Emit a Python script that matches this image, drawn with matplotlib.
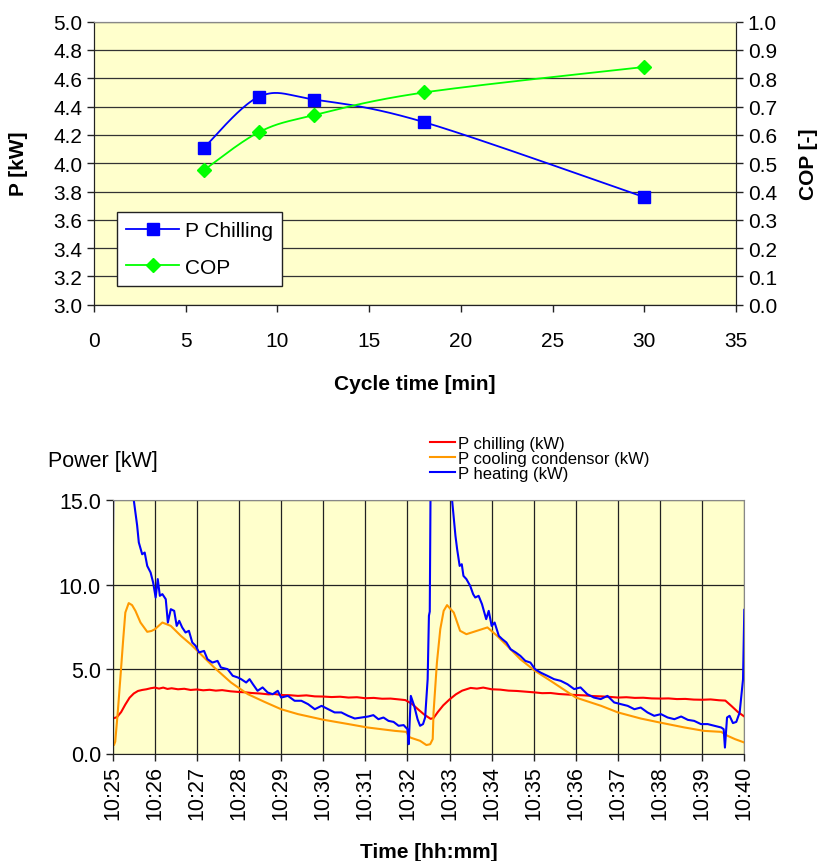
import numpy as np
import matplotlib
matplotlib.use("Agg")
import matplotlib.pyplot as plt
from matplotlib.lines import Line2D

plt.rcParams['font.family'] = ['Liberation Sans', 'DejaVu Sans']

# ---------------- data: top chart ----------------
cycle_time = [6, 9, 12, 18, 30]
p_chilling = [4.11, 4.47, 4.45, 4.29, 3.76]
cop = [0.476, 0.61, 0.67, 0.75, 0.84]

# ---------------- data: bottom chart (minutes after 10:00) ----------------
red_t = [25.00, 25.10, 25.20, 25.30, 25.40, 25.50, 25.60, 25.70, 25.80, 25.90, 26.00, 26.10, 26.20, 26.30,
         26.40, 26.55, 26.70, 26.85, 27.00, 27.15, 27.30, 27.45, 27.60, 27.80, 28.00, 28.15, 28.30, 28.50,
         28.70, 28.85, 29.00, 29.20, 29.40, 29.60, 29.80, 30.00, 30.20, 30.40, 30.60, 30.80, 31.00, 31.20,
         31.40, 31.60, 31.80, 31.95, 32.10, 32.25, 32.40, 32.55, 32.62, 32.72, 32.85, 33.00, 33.15, 33.30,
         33.50, 33.65, 33.80, 34.00, 34.20, 34.40, 34.60, 34.80, 35.00, 35.20, 35.40, 35.60, 35.80, 36.00,
         36.20, 36.40, 36.60, 36.80, 37.00, 37.20, 37.40, 37.60, 37.80, 38.00, 38.20, 38.40, 38.60, 38.80,
         39.00, 39.20, 39.40, 39.55, 39.70, 39.85, 40.00]
red_v = [2.07, 2.15, 2.45, 2.90, 3.30, 3.55, 3.70, 3.76, 3.80, 3.86, 3.90, 3.84, 3.90, 3.82,
         3.86, 3.80, 3.83, 3.76, 3.79, 3.74, 3.77, 3.72, 3.75, 3.68, 3.64, 3.62, 3.58, 3.55,
         3.50, 3.52, 3.46, 3.45, 3.41, 3.44, 3.38, 3.37, 3.34, 3.36, 3.31, 3.33, 3.27, 3.29,
         3.24, 3.25, 3.20, 3.16, 2.95, 2.62, 2.30, 2.05, 2.10, 2.45, 2.85, 3.20, 3.50, 3.72,
         3.88, 3.84, 3.90, 3.80, 3.78, 3.72, 3.70, 3.66, 3.62, 3.57, 3.58, 3.52, 3.49, 3.46,
         3.44, 3.40, 3.38, 3.35, 3.31, 3.33, 3.29, 3.30, 3.26, 3.25, 3.26, 3.22, 3.23, 3.19,
         3.18, 3.20, 3.15, 3.13, 2.80, 2.45, 2.19]

orange_t = [25.00, 25.03, 25.06, 25.12, 25.18, 25.25, 25.30, 25.38, 25.46, 25.54, 25.66, 25.82, 25.92,
            26.00, 26.18, 26.38, 26.62, 26.85, 27.09, 27.41, 27.81, 28.21, 28.60, 29.00, 29.40, 30.00,
            30.60, 31.05, 31.70, 31.97, 32.06, 32.30, 32.45, 32.54, 32.60, 32.62, 32.70, 32.78, 32.86,
            32.94, 33.10, 33.25, 33.40, 33.65, 33.90, 34.13, 34.37, 34.68, 35.03, 35.40, 36.00, 36.60,
            37.00, 37.54, 38.00, 38.58, 39.04, 39.45, 39.60, 39.78, 40.00]
orange_v = [0.65, 0.50, 0.70, 2.43, 4.40, 6.77, 8.34, 8.90, 8.78, 8.44, 7.75, 7.20, 7.25,
            7.35, 7.75, 7.55, 6.96, 6.47, 5.88, 5.09, 4.20, 3.51, 3.06, 2.62, 2.33, 2.00,
            1.74, 1.54, 1.34, 1.28, 0.95, 0.75, 0.50, 0.55, 0.85, 2.43, 5.38, 7.36, 8.44,
            8.78, 8.34, 7.26, 7.06, 7.26, 7.46, 6.96, 6.37, 5.58, 4.89, 4.30, 3.31, 2.82,
            2.43, 2.07, 1.83, 1.54, 1.34, 1.28, 1.05, 0.85, 0.65]

blue_t = [25.00, 25.02, 25.46, 25.50, 25.58, 25.62, 25.70, 25.76, 25.82, 25.90, 25.96, 26.02, 26.07,
          26.12, 26.18, 26.26, 26.31, 26.38, 26.46, 26.52, 26.58, 26.65, 26.73, 26.81, 26.89, 26.97,
          27.05, 27.17, 27.25, 27.37, 27.49, 27.57, 27.73, 27.85, 27.97, 28.05, 28.17, 28.25, 28.33,
          28.44, 28.56, 28.68, 28.80, 28.92, 29.00, 29.16, 29.32, 29.48, 29.64, 29.80, 29.96, 30.12,
          30.27, 30.43, 30.59, 30.75, 30.91, 31.07, 31.19, 31.31, 31.43, 31.55, 31.67, 31.79, 31.91,
          32.00, 32.03, 32.08, 32.16, 32.24, 32.30, 32.37, 32.42, 32.48, 32.51, 32.53, 32.56, 33.02,
          33.06, 33.14, 33.18, 33.24, 33.29, 33.33, 33.40, 33.49, 33.56, 33.61, 33.69, 33.77, 33.87,
          33.93, 34.00, 34.07, 34.17, 34.25, 34.35, 34.45, 34.57, 34.68, 34.80, 34.92, 35.03, 35.16,
          35.32, 35.48, 35.64, 35.80, 35.96, 36.11, 36.27, 36.43, 36.59, 36.75, 36.91, 37.07, 37.23,
          37.39, 37.54, 37.70, 37.86, 38.02, 38.18, 38.34, 38.50, 38.66, 38.81, 38.97, 39.13, 39.29,
          39.45, 39.51, 39.54, 39.59, 39.65, 39.73, 39.81, 39.89, 39.97, 40.00]
blue_v = [8.80, 20.0, 20.0, 15.00, 13.50, 12.49, 11.79, 11.89, 11.10, 10.71, 10.12, 9.23, 10.32,
          9.33, 9.43, 9.13, 7.75, 8.54, 8.44, 7.55, 7.85, 7.46, 7.16, 7.26, 6.57, 6.37,
          5.98, 6.07, 5.58, 5.38, 5.48, 5.09, 4.99, 4.60, 4.50, 4.40, 4.20, 4.40, 4.10,
          3.71, 3.91, 3.61, 3.51, 3.71, 3.31, 3.41, 3.12, 3.12, 2.92, 2.62, 2.82, 2.62,
          2.43, 2.43, 2.23, 2.07, 2.13, 2.19, 2.27, 2.03, 2.13, 1.93, 1.87, 1.64, 1.68,
          1.44, 0.55, 3.41, 2.82, 2.03, 1.64, 1.74, 2.13, 4.40, 8.15, 8.40, 20.0, 20.0,
          15.00, 12.88, 12.09, 11.10, 11.20, 10.51, 10.32, 9.92, 9.43, 9.23, 9.33, 8.84, 7.95,
          8.44, 7.55, 7.75, 6.96, 6.77, 6.57, 6.17, 5.98, 5.78, 5.48, 5.38, 4.99, 4.79,
          4.60, 4.40, 4.30, 4.10, 3.81, 3.91, 3.51, 3.31, 3.22, 3.41, 3.02, 2.92, 2.82,
          2.62, 2.72, 2.43, 2.23, 2.33, 2.13, 2.03, 2.19, 1.99, 1.93, 1.74, 1.74, 1.64,
          1.54, 1.44, 0.35, 2.13, 2.23, 1.80, 1.87, 2.43, 4.40, 8.50]

time_ticks = [25, 26, 27, 28, 29, 30, 31, 32, 33, 34, 35, 36, 37, 38, 39, 40]
time_labels = ['10:25', '10:26', '10:27', '10:28', '10:29', '10:30', '10:31', '10:32',
               '10:33', '10:34', '10:35', '10:36', '10:37', '10:38', '10:39', '10:40']

BG = '#FFFFCC'
W, H = 819, 862
fig = plt.figure(figsize=(W / 100, H / 100), dpi=100)


def smooth_curve(ax, x, y, n=40):
    """Excel-style smoothed line drawn through the points (display-space Bezier)."""
    pts = ax.transData.transform(np.column_stack([x, y]))
    P = np.vstack([pts[0], pts, pts[-1]])
    out = []
    for i in range(1, len(P) - 2):
        p0, p1, p2, p3 = P[i - 1], P[i], P[i + 1], P[i + 2]
        c1 = p1 + (p2 - p0) / 6.0
        c2 = p2 - (p3 - p1) / 6.0
        s = np.linspace(0, 1, n)[:, None]
        seg = (1 - s) ** 3 * p1 + 3 * (1 - s) ** 2 * s * c1 + 3 * (1 - s) * s ** 2 * c2 + s ** 3 * p2
        out.append(seg if i == 1 else seg[1:])
    out = np.vstack(out)
    return ax.transData.inverted().transform(out)


# ================= top chart =================
ax1 = fig.add_axes([94 / W, 1 - 305.7 / H, 642 / W, 283 / H])
ax1.set_facecolor(BG)
ax1.set_xlim(0, 35)
ax1.set_ylim(3.0, 5.0)
ax1.set_xticks(range(0, 36, 5))
ax1.set_yticks(np.arange(3.0, 5.01, 0.2))
ax1.set_yticklabels([f'{v:.1f}' for v in np.arange(3.0, 5.01, 0.2)])
ax1.grid(axis='y', color='#333333', linewidth=0.9)
ax1.set_axisbelow(True)
ax2 = ax1.twinx()
ax2.set_ylim(0.0, 1.0)
ax2.set_yticks(np.arange(0, 1.01, 0.1))
ax2.set_yticklabels([f'{v:.1f}' for v in np.arange(0, 1.01, 0.1)])

for a in (ax1, ax2):
    for s in ('left', 'right', 'bottom'):
        a.spines[s].set_color('#222222')
    a.spines['top'].set_color('#888888')
    a.tick_params(labelsize=15, length=5, width=1, colors='#222222', labelcolor='black')
ax1.tick_params(axis='x', pad=14)

pc = smooth_curve(ax1, cycle_time, p_chilling)
ax1.plot(pc[:, 0], pc[:, 1], color='#0000FF', lw=1.3)
ax1.plot(cycle_time, p_chilling, ls='none', marker='s', ms=8, color='#0000FF')
cc = smooth_curve(ax2, cycle_time, cop)
ax2.plot(cc[:, 0], cc[:, 1], color='#00FF00', lw=1.3)
ax2.plot(cycle_time, cop, ls='none', marker='D', ms=7, color='#00FF00')

ax1.set_xlabel('Cycle time [min]', fontsize=15, fontweight='bold', labelpad=17)
ax1.set_ylabel('P [kW]', fontsize=15, fontweight='bold', labelpad=18)
ax2.set_ylabel('COP [-]', fontsize=15, fontweight='bold', labelpad=16)

h1 = [Line2D([], [], color='#0000FF', lw=1.3, marker='s', ms=8),
      Line2D([], [], color='#00FF00', lw=1.3, marker='D', ms=7)]
leg = ax2.legend(h1, ['P Chilling', 'COP'], loc='lower left', bbox_to_anchor=(0.036, 0.066),
                 fontsize=15, frameon=True, fancybox=False, edgecolor='#222222', framealpha=1,
                 handlelength=2.5, handletextpad=0.3, labelspacing=0.85, borderpad=0.45,
                 borderaxespad=0)
leg.get_frame().set_linewidth(1.0)

# ================= bottom chart =================
ax3 = fig.add_axes([112.7 / W, 1 - 754.5 / H, 631.6 / W, 253.5 / H])
ax3.set_facecolor(BG)
ax3.set_xlim(25, 40)
ax3.set_ylim(0, 15)
ax3.set_yticks([0, 5, 10, 15])
ax3.set_yticklabels(['0.0', '5.0', '10.0', '15.0'])
ax3.set_xticks(time_ticks)
ax3.set_xticklabels(time_labels, rotation=90)
ax3.grid(True, color='#222222', linewidth=0.9)
ax3.set_axisbelow(True)
for s in ('left', 'bottom'):
    ax3.spines[s].set_color('#222222')
for s in ('top', 'right'):
    ax3.spines[s].set_color('#888888')
ax3.tick_params(labelsize=15.5, length=5, width=1, colors='#222222', labelcolor='black')

l1, = ax3.plot(red_t, red_v, color='#FF0000', lw=1.5)
l2, = ax3.plot(orange_t, orange_v, color='#FF9900', lw=1.5)
l3, = ax3.plot(blue_t, blue_v, color='#0000FF', lw=1.5)

ax3.set_xlabel('Time [hh:mm]', fontsize=15, fontweight='bold', labelpad=16)
fig.text(48 / W, 1 - 462 / H, 'Power [kW]', fontsize=15.5, va='center', ha='left')

leg2 = fig.legend([l1, l2, l3], ['P chilling (kW)', 'P cooling condensor (kW)', 'P heating (kW)'],
                  loc='upper left', bbox_to_anchor=(430 / W, 1 - 437 / H), fontsize=12,
                  frameon=False, handlelength=1.5, handletextpad=0.2, labelspacing=0.0,
                  borderpad=0, borderaxespad=0)

fig.savefig('out.png', dpi=100)
